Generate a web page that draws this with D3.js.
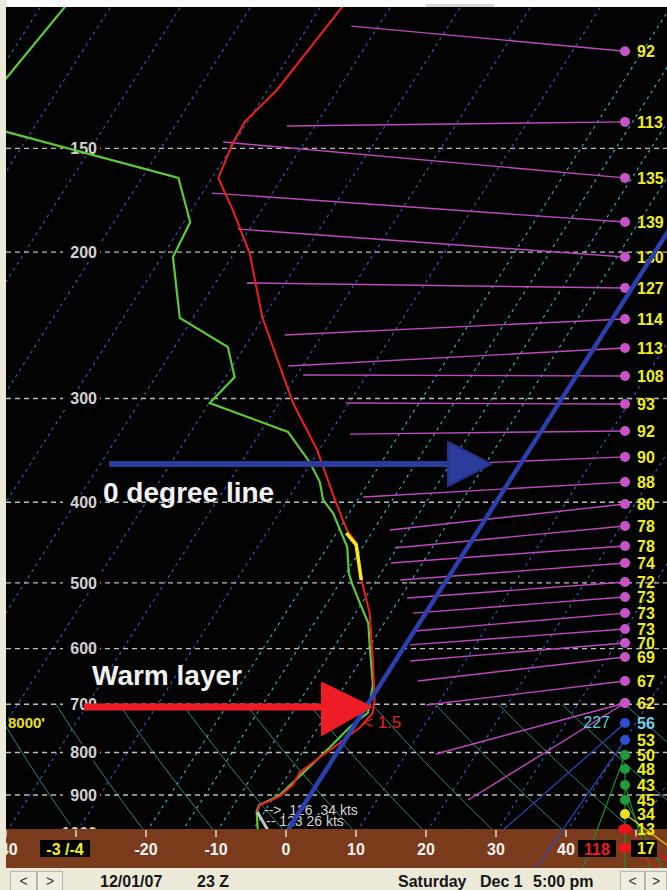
<!DOCTYPE html>
<html>
<head>
<meta charset="utf-8">
<script src="https://cdn.jsdelivr.net/npm/d3@7"></script>
<style>
body { margin: 0; background: #ece9d8; }
svg { display: block; font-family: "Liberation Sans", Arial, sans-serif; }
</style>
</head>
<body>
<div id="chart"></div>
<script>
// sounding data (pressure hPa / temperature C)
var tempP = [100, 127.6, 139.4, 147.8, 162.8, 178.0, 200.5, 239.4, 303.8, 346, 379.2, 397.5, 431.9, 447.8, 500, 543.7, 619, 691.8, 717, 745.4, 779.2, 810.2, 844.6, 875.5, 902.7, 917.8, 925.4, 943.5];
var tempT = [-66.8, -68.7, -70.4, -70.2, -69.1, -64.1, -57.8, -50.2, -38.0, -30.3, -25.6, -23.2, -18.8, -16.2, -11.8, -8.0, -3.3, 0.6, 1.5, 1.0, -0.5, -2.0, -3.5, -3.4, -4.2, -5.5, -6.3, -6.0];

var dewP = [100, 123.1, 139.4, 143.4, 162.8, 184.0, 202.7, 240.0, 260.1, 282.7, 303.8, 329.1, 358.7, 378.2, 397.5, 412.1, 452.7, 486.6, 500, 528.8, 558.8, 597.2, 663.7, 717, 745.4, 787.9, 846.9, 902.7, 917.8, 925.4, 943.5, 991.7];
var dewT = [-106.4, -108.4, -109.6, -103.4, -74.8, -69.1, -68.4, -61.9, -52.4, -48.7, -49.9, -36.1, -30.1, -27.0, -24.9, -22.3, -17.2, -14.6, -13.3, -10.3, -7.3, -4.9, -1.0, 0.8, -0.5, -1.5, -3.0, -4.4, -5.7, -6.4, -6.1, -4.3];

// highlighted (yellow) part of the temperature trace
var yellowP = [435.5, 450.2, 496.1];
var yellowT = [-18.6, -16.1, -12.2];

// winds: dot pressure, speed label, far end pressure, line length (deg units), colour group
var windP = [114.6, 139.4, 162.8, 184.0, 202.7, 220.9, 240.7, 260.8, 281.9, 304.6, 328.3, 352.7, 378.2, 401.9, 427.1, 451.4, 473.2, 498.9, 520.0, 543.7, 568.1, 590.6, 614.0, 656.3, 697.5, 697.5, 737.2, 772.9, 805.5, 837.5, 875.5, 912.6, 948.7, 989.0, 1042];
var windKt = ["92", "113", "135", "139", "130", "127", "114", "113", "108", "93", "92", "90", "88", "80", "78", "78", "74", "72", "73", "73", "73", "70", "69", "67", "62", "", "56", "53", "50", "48", "43", "45", "34", "13", "17"];
var windEndP = [106.9, 141.0, 147.4, 169.8, 187.6, 217.8, 251.6, 274.2, 281.1, 303.8, 331.1, 360.7, 394.2, 431.9, 454.0, 473.2, 496.1, 521.4, 543.7, 571.3, 593.8, 620.9, 656.3, 701.4, 803.4, 912.6, 991.7, 1102, 1102, 1102, 1102, 1102, 1033.8, 1077.8, 1102];
var windLen = [39.1, 48.3, 57.4, 59.0, 55.3, 54.0, 48.6, 48.1, 46.0, 39.9, 39.3, 27.9, 37.4, 33.6, 32.9, 33.4, 32.1, 31.1, 30.3, 30.0, 30.7, 30.7, 29.6, 28.4, 27.0, 22.4, 17.4, 12.7, 6.0, 0, -3.6, -5.3, -6.0, -6.0, -5.0];
var windType = ["m", "m", "m", "m", "m", "m", "m", "m", "m", "m", "m", "m", "m", "m", "m", "m", "m", "m", "m", "m", "m", "m", "m", "m", "m", "m", "b", "b", "g", "g", "g", "g", "y", "r", "r"];

// grid
var pressureLevels = [150, 200, 300, 400, 500, 600, 700, 800, 900, 1000];
var tempTicks = [-40, -30, -20, -10, 0, 10, 20, 30, 40, 50];
var tempLabels = [-40, -20, -10, 0, 10, 20, 30, 40];   // -30 and 50 sit under the boxes
var isothermsBlue = [-120, -110, -100, -90, -80, -70, -60, -50, -40, -30, 10, 20, 30, 40, 50];
var isothermsCyan = [-20, -15, -10, -5];
var dryAdiabats = [-30, -20, -10, 0, 10, 20, 30, 40, 50, 60, 70, 80];

// layout
var width = 667, height = 890;
var plotLeft = 6, plotTop = 7, plotRight = 667, plotBottom = 829;
var bandBottom = 868;
var skew = 0.635;
var windX = 625;

var lineColor = {m: "#c048c0", b: "#2a48c4", g: "#1c8c30", y: "#d8d020", r: "#e01818"};
var dotColor = {m: "#c853c8", b: "#2b50d2", g: "#1f9a3c", y: "#e8e020", r: "#e8161c"};

var yScale = d3.scaleLog().domain([100, 1000]).range([2, 833]);
var xScale = d3.scaleLinear().domain([-40, 50]).range([6, 636]);
var lenScale = d3.scaleLinear().domain([0, 10]).range([0, 70]);

function skewX(t, p) { return xScale(t) + skew * (yScale(1000) - yScale(p)); }

var line = d3.line()
    .x(function(d) { return skewX(d[0], d[1]); })
    .y(function(d) { return yScale(d[1]); });

var svg = d3.select("#chart").append("svg")
    .attr("width", width)
    .attr("height", height);

// window frame + black plot
svg.append("rect").attr("width", width).attr("height", height).attr("fill", "#ece9d8");
svg.append("rect").attr("x", plotLeft).attr("width", width - plotLeft).attr("height", plotTop).attr("fill", "#fbfbfb");
svg.append("rect").attr("x", 426).attr("y", 4).attr("width", 68).attr("height", 3).attr("fill", "#d6d6d6");
svg.append("rect")
    .attr("x", plotLeft).attr("y", plotTop)
    .attr("width", plotRight - plotLeft).attr("height", plotBottom - plotTop)
    .attr("fill", "#020202");

var defs = svg.append("defs");
defs.append("clipPath").attr("id", "plotClip").append("rect")
    .attr("x", plotLeft).attr("y", plotTop)
    .attr("width", plotRight - plotLeft).attr("height", plotBottom - plotTop);
defs.append("clipPath").attr("id", "windClip").append("rect")
    .attr("x", plotLeft).attr("y", plotTop)
    .attr("width", plotRight - plotLeft).attr("height", bandBottom - plotTop);

var grid = svg.append("g").attr("clip-path", "url(#plotClip)");

// isotherms
grid.selectAll(".iso-blue")
    .data(isothermsBlue)
    .enter().append("path")
    .attr("d", function(t) { return line([[t, 1100], [t, 95]]); })
    .attr("stroke", "#3a5ec4")
    .attr("stroke-width", 1.1)
    .attr("stroke-dasharray", "3,4")
    .attr("fill", "none");

grid.selectAll(".iso-cyan")
    .data(isothermsCyan)
    .enter().append("path")
    .attr("d", function(t) { return line([[t, 1100], [t, 95]]); })
    .attr("stroke", "#32b8cc")
    .attr("stroke-width", 1.1)
    .attr("stroke-dasharray", "3,4")
    .attr("fill", "none");

// dry adiabats (700 - 1000 hPa)
var adiabatP = d3.range(700, 1011, 10);
grid.selectAll(".dry")
    .data(dryAdiabats)
    .enter().append("path")
    .attr("d", function(th) {
        return line(adiabatP.map(function(p) {
            return [(th + 273.15) * Math.pow(p / 1000, 0.2857) - 273.15, p];
        }));
    })
    .attr("stroke", "#2a8a7c")
    .attr("stroke-width", 1)
    .attr("fill", "none");

// pressure lines + labels
grid.selectAll(".pline")
    .data(pressureLevels)
    .enter().append("line")
    .attr("x1", plotLeft).attr("x2", plotRight)
    .attr("y1", function(p) { return yScale(p); })
    .attr("y2", function(p) { return yScale(p); })
    .attr("stroke", "#bdbdbd")
    .attr("stroke-width", 1.4)
    .attr("stroke-dasharray", "5,4");

grid.selectAll(".pbg")
    .data(pressureLevels)
    .enter().append("rect")
    .attr("x", 63).attr("width", 37)
    .attr("y", function(p) { return yScale(p) - 8; })
    .attr("height", 16)
    .attr("fill", "#020202");

grid.selectAll(".plabel")
    .data(pressureLevels)
    .enter().append("text")
    .attr("x", 97)
    .attr("y", function(p) { return yScale(p); })
    .attr("dy", "0.36em")
    .attr("text-anchor", "end")
    .attr("font-size", 16)
    .attr("font-weight", "bold")
    .attr("fill", "#d2d2d2")
    .text(function(p) { return p; });

grid.append("text")
    .attr("x", 8).attr("y", 728)
    .attr("font-size", 15)
    .attr("font-weight", "bold")
    .attr("fill", "#e8e020")
    .text("8000'");

// brown temperature band
svg.append("rect")
    .attr("x", plotLeft).attr("y", plotBottom)
    .attr("width", plotRight - plotLeft).attr("height", bandBottom - plotBottom)
    .attr("fill", "#7a3a1c");

var band = svg.append("g").attr("clip-path", "url(#windClip)");
band.selectAll(".tick")
    .data(tempTicks)
    .enter().append("line")
    .attr("x1", function(t) { return xScale(t); })
    .attr("x2", function(t) { return xScale(t); })
    .attr("y1", plotBottom + 1).attr("y2", plotBottom + 8)
    .attr("stroke", "#f0f0f0")
    .attr("stroke-width", 1.3);
band.selectAll(".tlabel")
    .data(tempLabels)
    .enter().append("text")
    .attr("x", function(t) { return xScale(t); })
    .attr("y", 855)
    .attr("text-anchor", "middle")
    .attr("font-size", 16)
    .attr("font-weight", "bold")
    .attr("fill", "#f4f4f4")
    .text(function(t) { return t; });

// winds
var winds = windP.map(function(p, i) {
    return {p: p, kt: windKt[i], endP: windEndP[i], len: windLen[i], type: windType[i]};
});

var windG = svg.append("g").attr("clip-path", "url(#windClip)");
windG.selectAll(".wline")
    .data(winds)
    .enter().append("line")
    .attr("x1", windX)
    .attr("y1", function(d) { return yScale(d.p); })
    .attr("x2", function(d) { return windX - lenScale(d.len); })
    .attr("y2", function(d) { return yScale(d.endP); })
    .attr("stroke", function(d) { return lineColor[d.type]; })
    .attr("stroke-width", function(d) { return d.type == "m" ? 1.4 : 1.2; });

windG.selectAll(".wdot")
    .data(winds)
    .enter().append("ellipse")
    .attr("cx", windX)
    .attr("cy", function(d) { return yScale(d.p); })
    .attr("rx", function(d) { return d.type == "r" ? 7 : 5; })
    .attr("ry", 5)
    .attr("fill", function(d) { return dotColor[d.type]; });

// black box behind last (surface) wind label
windG.append("rect")
    .attr("x", 631).attr("y", 840).attr("width", 26).attr("height", 17)
    .attr("fill", "#020202");

windG.selectAll(".wlabel")
    .data(winds)
    .enter().append("text")
    .attr("x", 637)
    .attr("y", function(d) { return yScale(d.p); })
    .attr("dy", "0.36em")
    .attr("font-size", 16)
    .attr("font-weight", "bold")
    .attr("fill", function(d) { return d.kt == "56" ? "#6fd0e8" : "#f0ee1a"; })
    .text(function(d) { return d.kt; });

// sounding traces
var trace = svg.append("g").attr("clip-path", "url(#plotClip)");

trace.append("path")
    .attr("d", line(dewP.map(function(p, i) { return [dewT[i], p]; })))
    .attr("stroke", "#5cc83a")
    .attr("stroke-width", 2.2)
    .attr("fill", "none");

trace.append("path")
    .attr("d", line(tempP.map(function(p, i) { return [tempT[i], p]; })))
    .attr("stroke", "#f01e1e")
    .attr("stroke-width", 2)
    .attr("fill", "none");

trace.append("path")
    .attr("d", line(yellowP.map(function(p, i) { return [yellowT[i], p]; })))
    .attr("stroke", "#f2ee1c")
    .attr("stroke-width", 3.5)
    .attr("fill", "none");

// surface wind stick + storm motion text
var sfcP = tempP[tempP.length - 1];
var sfcX = skewX(tempT[tempT.length - 1], sfcP);
trace.append("line")
    .attr("x1", sfcX).attr("y1", yScale(sfcP))
    .attr("x2", sfcX + 11).attr("y2", plotBottom + 2)
    .attr("stroke", "#c4c4c4")
    .attr("stroke-width", 3);

trace.append("text")
    .attr("x", 264).attr("y", 815)
    .attr("font-size", 14)
    .attr("fill", "#d4d4d4")
    .text("-->,  126  .34 kts");
trace.append("text")
    .attr("x", 266).attr("y", 826)
    .attr("font-size", 14)
    .attr("fill", "#d4d4d4")
    .text("--     123      26 kts");

trace.append("text")
    .attr("x", 363).attr("y", 728)
    .attr("font-size", 17)
    .attr("fill", "#e82020")
    .text("< 1.5");

trace.append("text")
    .attr("x", 610).attr("y", 728)
    .attr("text-anchor", "end")
    .attr("font-size", 16)
    .attr("fill", "#5ccbdc")
    .text("227");

// 0 degree isotherm
trace.append("path")
    .attr("d", line([[0, 1000], [0, 95]]))
    .attr("stroke", "#2c3fae")
    .attr("stroke-width", 4.5)
    .attr("stroke-linecap", "round")
    .attr("fill", "none");

// annotation arrows
var notes = svg.append("g");
var blueY = 464;
notes.append("line")
    .attr("x1", 109).attr("x2", 452)
    .attr("y1", blueY).attr("y2", blueY)
    .attr("stroke", "#2c3c9e")
    .attr("stroke-width", 6);
notes.append("path")
    .attr("d", "M448," + (blueY - 22) + "L491," + blueY + "L448," + (blueY + 22) + "Z")
    .attr("fill", "#2d3c9c")
    .attr("stroke", "#25318a")
    .attr("stroke-width", 2)
    .attr("stroke-linejoin", "round");
notes.append("text")
    .attr("x", 103).attr("y", 502)
    .attr("font-size", 28)
    .attr("font-weight", "bold")
    .attr("fill", "#f2f2f2")
    .text("0 degree line");

var redY = 707;
notes.append("line")
    .attr("x1", 84).attr("x2", 326)
    .attr("y1", redY).attr("y2", redY)
    .attr("stroke", "#ee1c24")
    .attr("stroke-width", 7);
notes.append("path")
    .attr("d", "M322," + (redY - 24) + "L371," + redY + "L322," + (redY + 28) + "Z")
    .attr("fill", "#ee1c24")
    .attr("stroke", "#ee1c24")
    .attr("stroke-width", 2)
    .attr("stroke-linejoin", "round");
notes.append("text")
    .attr("x", 92).attr("y", 685)
    .attr("font-size", 28)
    .attr("font-weight", "bold")
    .attr("fill", "#f2f2f2")
    .text("Warm layer");

// boxes in band
function boxLabel(x, w, txt, color) {
    notes.append("rect").attr("x", x).attr("y", 840).attr("width", w).attr("height", 17).attr("fill", "#020202");
    notes.append("text")
        .attr("x", x + w / 2).attr("y", 855)
        .attr("text-anchor", "middle")
        .attr("font-size", 16)
        .attr("font-weight", "bold")
        .attr("fill", color)
        .text(txt);
}
boxLabel(40, 50, "-3 /-4", "#f0ee1a");
boxLabel(578, 38, "118", "#ee2020");

// left border
svg.append("rect").attr("x", 0).attr("y", 0).attr("width", plotLeft).attr("height", height).attr("fill", "#ece9d8");

// status bar
var statusBar = svg.append("g");
statusBar.append("rect").attr("x", 0).attr("y", bandBottom).attr("width", width).attr("height", height - bandBottom).attr("fill", "#ece9d8");

var buttons = [[10, 27, "<"], [37, 26, ">"], [620, 25, "<"], [645, 22, ">"]];
buttons.forEach(function(b) {
    statusBar.append("rect")
        .attr("x", b[0] + 0.5).attr("y", 871.5)
        .attr("width", b[1] - 1).attr("height", 20)
        .attr("fill", "#efede2")
        .attr("stroke", "#b8b5a8");
    statusBar.append("text")
        .attr("x", b[0] + b[1] / 2).attr("y", 886)
        .attr("text-anchor", "middle")
        .attr("font-size", 14)
        .attr("fill", "#333")
        .text(b[2]);
});

var statusText = [[100, "12/01/07"], [197, "23 Z"], [398, "Saturday"], [480, "Dec 1"], [533, "5:00 pm"]];
statusText.forEach(function(s) {
    statusBar.append("text")
        .attr("x", s[0]).attr("y", 887)
        .attr("font-size", 16)
        .attr("font-weight", "bold")
        .attr("fill", "#161616")
        .text(s[1]);
});
</script>
</body>
</html>
